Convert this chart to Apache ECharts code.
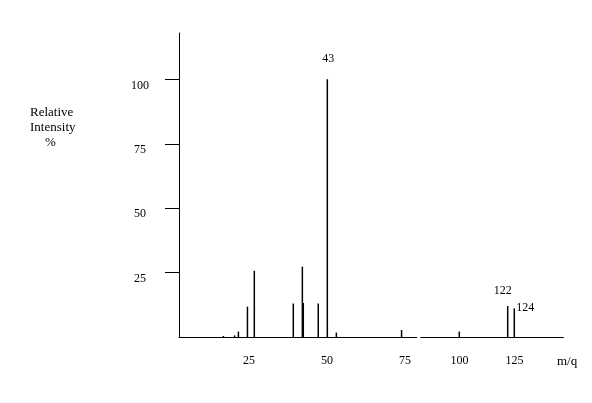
<!DOCTYPE html>
<html><head><meta charset="utf-8">
<script src="https://cdn.jsdelivr.net/npm/echarts@6/dist/echarts.min.js"></script>
<style>html,body{margin:0;padding:0;background:#fff}#c{width:592px;height:403px}</style>
</head><body><div id="c"></div>
<script>
// Left segment of the broken m/q axis (positions read against the drawn tick labels)
const leftMz        = [16.8, 20.4, 21.6, 24.5, 26.7, 39.2, 42.1, 42.4, 47.2, 50.1, 53.0, 73.9];
const leftIntensity = [0.4, 0.6, 2.1, 11.8, 25.7, 13.0, 27.3, 13.2, 13.0, 100, 1.7, 2.7];
const leftPeakText  = ['', '', '', '', '', '', '', '', '', '43', '', ''];
// Right segment of the broken axis
const rightMz        = [99.9, 121.9, 124.9];
const rightIntensity = [2.1, 12.0, 11.1];
const rightPeakText  = ['', '122', '124'];
// Tick labels
const leftXTicks  = [25, 50, 75];
const rightXTicks = [100, 125];
const yTicks      = [25, 50, 75, 100];

const FONT = '"Liberation Serif", "DejaVu Serif", serif';
const labelStyle = {
  '43':  {distance: 14, offset: [1, -1]},
  '122': {distance: 9, offset: [-5, 0]},
  '124': {distance: 5, offset: [11, 10]}
};

function buildData(xs, ys, texts) {
  return xs.map((x, i) => {
    const item = {value: [x, ys[i]]};
    const t = texts[i];
    if (t) {
      const s = labelStyle[t] || {};
      item.label = {show: true, position: 'top', formatter: t,
        distance: s.distance, offset: s.offset,
        color: '#000', fontFamily: FONT, fontSize: 12};
    }
    return item;
  });
}

const axisLabelBase = {color: '#000', fontFamily: FONT, fontSize: 12};
const chart = echarts.init(document.getElementById('c'), null, {renderer: 'canvas'});
chart.setOption({
  animation: false,
  backgroundColor: '#fff',
  grid: [
    {left: 179, right: 175.3, top: 33, bottom: 66},
    {left: 420.7, right: 28.7, top: 33, bottom: 66}
  ],
  xAxis: [
    {type: 'value', gridIndex: 0, min: 2.56, max: 78.75,
      axisLine: {show: true, onZero: false, lineStyle: {color: '#000', width: 1}},
      axisTick: {show: false}, splitLine: {show: false},
      axisLabel: Object.assign({customValues: leftXTicks, margin: 18}, axisLabelBase)},
    {type: 'value', gridIndex: 1, min: 82.36, max: 147.18,
      axisLine: {show: true, onZero: false, lineStyle: {color: '#000', width: 1}},
      axisTick: {show: false}, splitLine: {show: false},
      axisLabel: Object.assign({customValues: rightXTicks, margin: 18}, axisLabelBase)}
  ],
  yAxis: [
    {type: 'value', gridIndex: 0, min: 0, max: 118,
      axisLine: {show: true, lineStyle: {color: '#000', width: 1}},
      axisTick: {show: true, length: 14, customValues: yTicks, lineStyle: {color: '#000'}},
      splitLine: {show: false},
      axisLabel: Object.assign({customValues: yTicks, margin: 39, align: 'center', verticalAlign: 'top'}, axisLabelBase)},
    {type: 'value', gridIndex: 1, min: 0, max: 118, show: false, splitLine: {show: false}}
  ],
  graphic: [
    {type: 'text', left: 30, top: 106, style: {text: 'Relative', fill: '#000', font: '13px ' + FONT}},
    {type: 'text', left: 30, top: 121, style: {text: 'Intensity', fill: '#000', font: '13px ' + FONT}},
    {type: 'text', left: 45, top: 136, style: {text: '%', fill: '#000', font: '13px ' + FONT}},
    {type: 'text', left: 557, top: 355, style: {text: 'm/q', fill: '#000', font: '13px ' + FONT}}
  ],
  series: [
    {type: 'bar', xAxisIndex: 0, yAxisIndex: 0, barWidth: 1.5,
      itemStyle: {color: '#000'}, data: buildData(leftMz, leftIntensity, leftPeakText)},
    {type: 'bar', xAxisIndex: 1, yAxisIndex: 1, barWidth: 1.5,
      itemStyle: {color: '#000'}, data: buildData(rightMz, rightIntensity, rightPeakText)}
  ]
});
</script></body></html>
